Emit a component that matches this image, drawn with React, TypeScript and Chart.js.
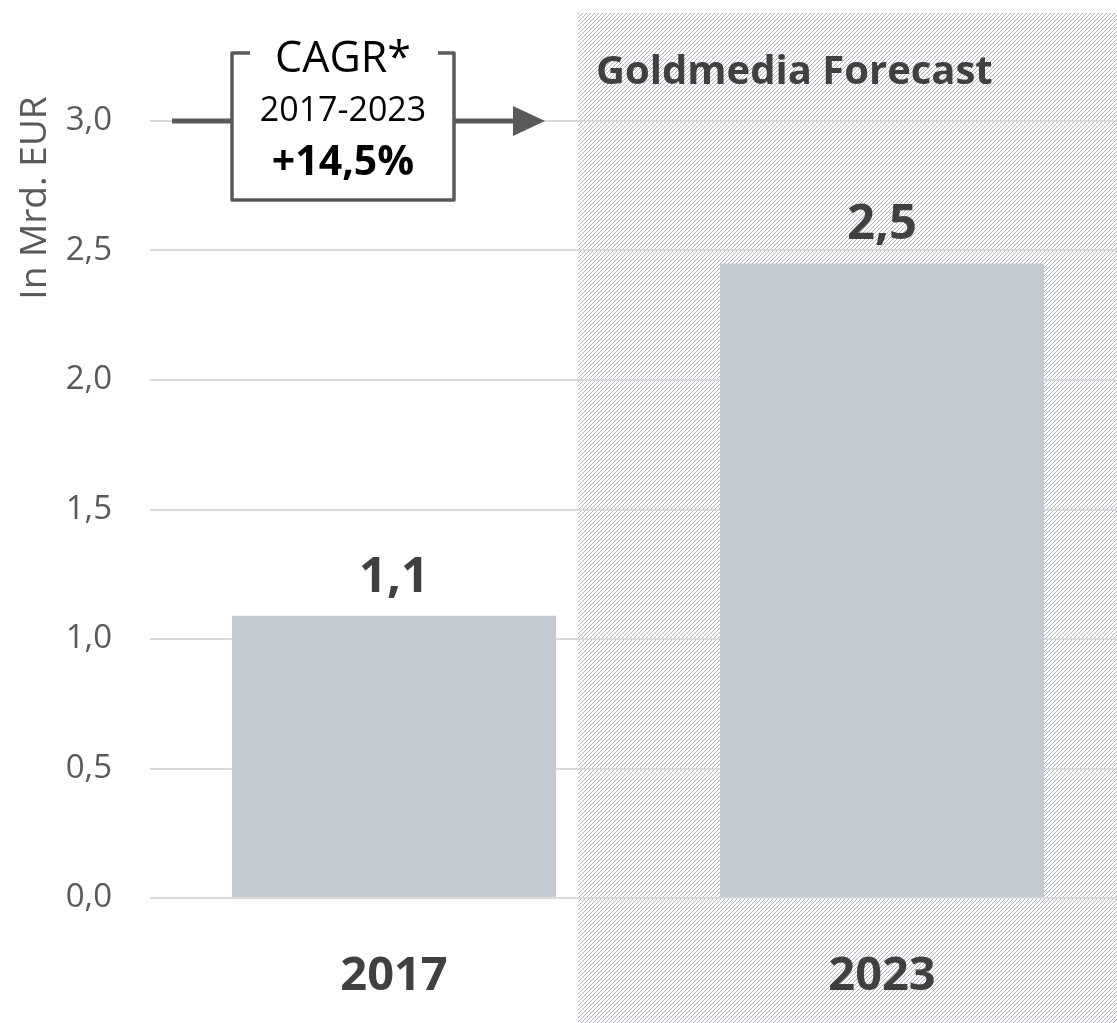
import React, { useEffect, useRef } from "react";
import { Chart, registerables } from "chart.js";

Chart.register(...registerables);

const categories = ["2017", "2023"];
const values = [1.09, 2.45];
const valueLabels = ["1,1", "2,5"];
const yTicks = [0, 0.5, 1, 1.5, 2, 2.5, 3];
const yTitle = "In Mrd. EUR";
const forecastLabel = "Goldmedia Forecast";
const cagrLines = ["CAGR*", "2017-2023", "+14,5%"];

const FONT = '"Open Sans", "Noto Sans", sans-serif';
const fmt = (v: number) => v.toFixed(1).replace(".", ",");

function makeHatch(ctx: CanvasRenderingContext2D) {
  const n = 4;
  const c = document.createElement("canvas");
  c.width = n;
  c.height = n;
  const g = c.getContext("2d")!;
  const img = g.createImageData(n, n);
  for (let y = 0; y < n; y++) {
    for (let x = 0; x < n; x++) {
      const i = (y * n + x) * 4;
      const on = (x + y) % n === n - 1;
      const col = on ? [172, 181, 189] : [255, 255, 255];
      img.data[i] = col[0];
      img.data[i + 1] = col[1];
      img.data[i + 2] = col[2];
      img.data[i + 3] = 255;
    }
  }
  g.putImageData(img, 0, 0);
  return ctx.createPattern(c, "repeat")!;
}

const decorPlugin = {
  id: "decor",
  beforeDraw(chart: any) {
    const { ctx } = chart;
    const meta = chart.getDatasetMeta(0);
    const b0 = meta.data[0];
    const left = Math.round(b0.x + b0.width / 2 + 22);
    ctx.save();
    ctx.fillStyle = makeHatch(ctx);
    ctx.fillRect(left, 13, chart.width - left, chart.height - 13);
    ctx.restore();
  },
  afterDatasetsDraw(chart: any) {
    const { ctx } = chart;
    const meta = chart.getDatasetMeta(0);
    ctx.save();
    ctx.fillStyle = "#404040";
    ctx.font = `bold 49px ${FONT}`;
    ctx.textAlign = "center";
    ctx.textBaseline = "alphabetic";
    meta.data.forEach((bar: any, i: number) => {
      ctx.fillText(valueLabels[i], bar.x, bar.y - 24);
    });
    ctx.restore();
  },
  afterDraw(chart: any) {
    const { ctx, scales } = chart;
    const y3 = scales.y.getPixelForValue(3);
    const meta = chart.getDatasetMeta(0);
    const b0 = meta.data[0];
    const hatchLeft = b0.x + b0.width / 2 + 22;

    // y axis title
    ctx.save();
    ctx.translate(46, 198);
    ctx.rotate(-Math.PI / 2);
    ctx.fillStyle = "#595959";
    ctx.font = `37px ${FONT}`;
    ctx.textAlign = "center";
    ctx.textBaseline = "alphabetic";
    ctx.fillText(yTitle, 0, 0);
    ctx.restore();

    // forecast label
    ctx.save();
    ctx.fillStyle = "#404040";
    ctx.font = `bold 40px ${FONT}`;
    ctx.textAlign = "left";
    ctx.textBaseline = "alphabetic";
    ctx.fillText(forecastLabel, hatchLeft + 18, 84);
    ctx.restore();

    // CAGR box and arrow
    const bl = 232, br = 454, bt = 53, bb = 200;
    ctx.save();
    ctx.strokeStyle = "#595959";
    ctx.fillStyle = "#595959";
    ctx.lineWidth = 5;
    ctx.beginPath();
    ctx.moveTo(172, y3);
    ctx.lineTo(bl, y3);
    ctx.moveTo(br, y3);
    ctx.lineTo(516, y3);
    ctx.stroke();
    ctx.beginPath();
    ctx.moveTo(513, y3 - 15);
    ctx.lineTo(545, y3);
    ctx.lineTo(513, y3 + 15);
    ctx.closePath();
    ctx.fill();
    ctx.fillStyle = "#ffffff";
    ctx.fillRect(bl, bt, br - bl, bb - bt);
    ctx.lineWidth = 3.5;
    ctx.lineJoin = "round";
    ctx.beginPath();
    ctx.moveTo(250, bt);
    ctx.lineTo(bl, bt);
    ctx.lineTo(bl, bb);
    ctx.lineTo(br, bb);
    ctx.lineTo(br, bt);
    ctx.lineTo(438, bt);
    ctx.stroke();
    const cx = (bl + br) / 2;
    ctx.fillStyle = "#000000";
    ctx.textAlign = "center";
    ctx.textBaseline = "alphabetic";
    ctx.font = `43px ${FONT}`;
    ctx.fillText(cagrLines[0], cx, 72);
    ctx.font = `34px ${FONT}`;
    ctx.fillText(cagrLines[1], cx, 121);
    ctx.font = `bold 41px ${FONT}`;
    ctx.fillText(cagrLines[2], cx, 175);
    ctx.restore();
  },
};

export default function App() {
  const ref = useRef<HTMLCanvasElement>(null);
  useEffect(() => {
    const chart = new Chart(ref.current!, {
      type: "bar",
      data: {
        labels: categories,
        datasets: [
          {
            data: values,
            backgroundColor: "#c3cad1",
            categoryPercentage: 1,
            barPercentage: 0.664,
          },
        ],
      },
      options: {
        animation: false,
        responsive: false,
        layout: { padding: { top: 121, left: 0, right: 0, bottom: 0 } },
        plugins: { legend: { display: false }, tooltip: { enabled: false } },
        scales: {
          x: {
            grid: { display: false },
            border: { display: false },
            ticks: {
              color: "#404040",
              font: { family: FONT, size: 47, weight: "bold" },
              padding: 42,
            },
            afterFit: (s: any) => {
              s.height = 125;
            },
          },
          y: {
            min: 0,
            max: 3,
            border: { display: false },
            grid: { color: "#d9d9d9", lineWidth: 2, drawTicks: false },
            afterBuildTicks: (s: any) => {
              s.ticks = yTicks.map((v) => ({ value: v }));
            },
            ticks: {
              color: "#595959",
              font: { family: FONT, size: 33 },
              padding: 38,
              callback: (v: any) => fmt(Number(v)),
            },
            afterFit: (s: any) => {
              s.width = 150;
            },
          },
        },
      },
      plugins: [decorPlugin],
    } as any);
    return () => chart.destroy();
  }, []);
  return (
    <div
      style={{
        position: "absolute",
        left: 0,
        top: 0,
        width: 1117,
        height: 1023,
        overflow: "hidden",
        background: "#fff",
      }}
    >
      <canvas ref={ref} width={1126} height={1023} style={{ display: "block" }} />
    </div>
  );
}
